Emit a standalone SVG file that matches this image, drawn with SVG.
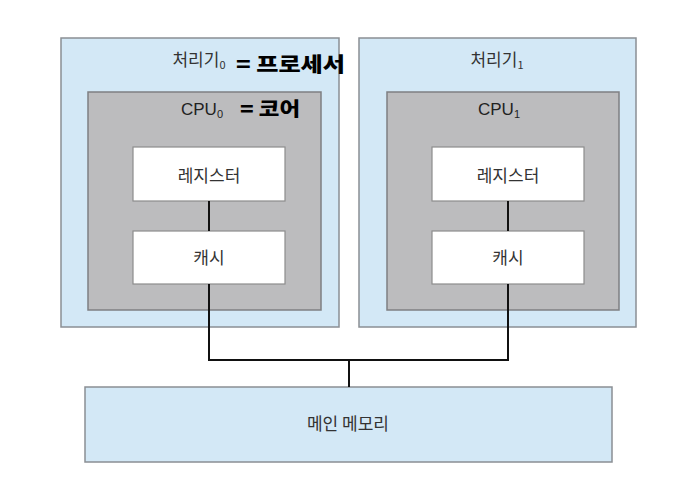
<svg xmlns="http://www.w3.org/2000/svg" width="696" height="477" viewBox="0 0 696 477">
<style>
.proc{fill:#d3e8f6;stroke:#8a8f94;stroke-width:1.5}
.cpu{fill:#bcbcbe;stroke:#7f7f82;stroke-width:1.5}
.box{fill:#ffffff;stroke:#8d8d8d;stroke-width:1.2}
.t{font-family:"Noto Sans CJK KR","Liberation Sans",sans-serif;fill:#333;text-anchor:middle}
.en{font-family:"Liberation Sans",Arial,sans-serif;fill:#222;text-anchor:middle}
.hw{font-family:"Noto Sans CJK KR",sans-serif;fill:#000;font-weight:900}
.wire{fill:none;stroke:#111;stroke-width:2}
</style>
<rect width="696" height="477" fill="#ffffff"/>
<g id="processor0">
<rect class="proc" x="61" y="38" width="278" height="289"/>
<text class="t" x="199" y="66" font-size="17">처리기<tspan font-size="11" dy="3">0</tspan></text>
</g>
<g id="cpu0">
<rect class="cpu" x="88" y="92" width="233" height="218"/>
<text class="en" x="202" y="115" font-size="17">CPU<tspan font-size="11" dy="3">0</tspan></text>
</g>
<g id="register0">
<rect class="box" x="133" y="147" width="152" height="54"/>
<text class="t" x="209" y="182" font-size="17">레지스터</text>
</g>
<g id="cache0">
<rect class="box" x="133" y="231" width="152" height="53"/>
<text class="t" x="209" y="264" font-size="17">캐시</text>
</g>
<g id="processor1">
<rect class="proc" x="359" y="38" width="277" height="289"/>
<text class="t" x="497" y="66" font-size="17">처리기<tspan font-size="11" dy="3">1</tspan></text>
</g>
<g id="cpu1">
<rect class="cpu" x="387" y="92" width="232" height="218"/>
<text class="en" x="499" y="115" font-size="17">CPU<tspan font-size="11" dy="3">1</tspan></text>
</g>
<g id="register1">
<rect class="box" x="432" y="147" width="152" height="54"/>
<text class="t" x="508" y="182" font-size="17">레지스터</text>
</g>
<g id="cache1">
<rect class="box" x="432" y="231" width="152" height="53"/>
<text class="t" x="508" y="264" font-size="17">캐시</text>
</g>
<g id="memory">
<rect class="proc" x="85" y="387" width="527" height="75"/>
<text class="t" x="348" y="430" font-size="17">메인 메모리</text>
</g>
<g id="connectors">
<line class="wire" x1="209" y1="201" x2="209" y2="231"/>
<line class="wire" x1="508" y1="201" x2="508" y2="231"/>
<polyline class="wire" points="209,284 209,360 508,360 508,284"/>
<line class="wire" x1="349" y1="360" x2="349" y2="387"/>
</g>
<g id="annotations">
<text class="hw" x="236" y="72" font-size="20" textLength="109" lengthAdjust="spacingAndGlyphs">= 프로세서</text>
<text class="hw" x="240" y="116" font-size="19" textLength="60" lengthAdjust="spacingAndGlyphs">= 코어</text>
</g>
</svg>
